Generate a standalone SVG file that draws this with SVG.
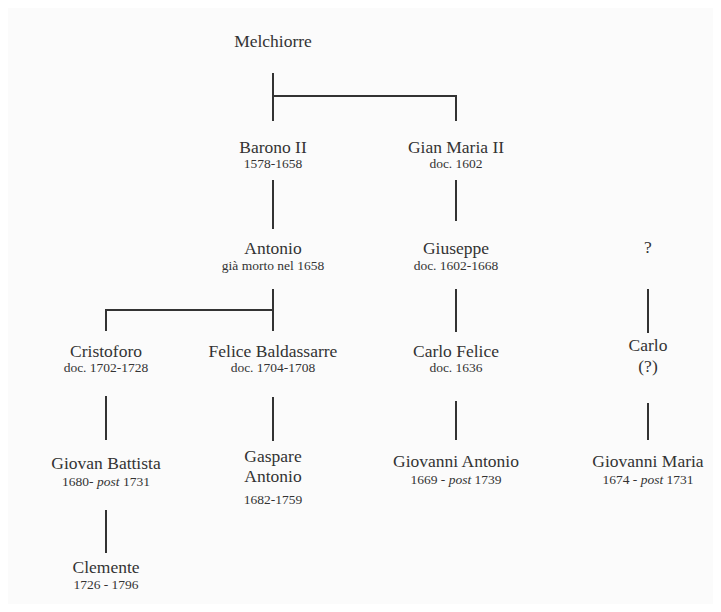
<svg xmlns="http://www.w3.org/2000/svg" width="721" height="612" viewBox="0 0 721 612">
<style>
.t text{fill:#333;text-anchor:middle;font-family:'Liberation Serif','Times New Roman',Times,'Nimbus Roman','DejaVu Serif',serif}
.n{font-size:17.5px}
.d{font-size:13.5px}
.c line{stroke:#333;stroke-width:2;fill:none}
</style>
<rect width="721" height="612" fill="#ffffff"/>
<rect x="8" y="8" width="705" height="596" fill="#fbfbfb"/>
<g id="connectors" class="c">
<line x1="273" y1="73" x2="273" y2="121"/>
<line x1="273" y1="96" x2="456" y2="96"/>
<line x1="456" y1="95" x2="456" y2="121"/>
<line x1="273" y1="180" x2="273" y2="229"/>
<line x1="456" y1="180" x2="456" y2="221"/>
<line x1="273" y1="289" x2="273" y2="331"/>
<line x1="105" y1="310" x2="273" y2="310"/>
<line x1="106" y1="309" x2="106" y2="331"/>
<line x1="456" y1="289" x2="456" y2="332"/>
<line x1="648" y1="289" x2="648" y2="333"/>
<line x1="106" y1="396" x2="106" y2="440"/>
<line x1="273" y1="397" x2="273" y2="441"/>
<line x1="456" y1="401" x2="456" y2="440"/>
<line x1="648" y1="403" x2="648" y2="440"/>
<line x1="106" y1="510" x2="106" y2="553"/>
</g>
<g class="t">
<g id="melchiorre"><text class="n" x="273" y="47">Melchiorre</text></g>
<g id="barono"><text class="n" x="273" y="153">Barono II</text><text class="d" x="273" y="168">1578-1658</text></g>
<g id="gianmaria"><text class="n" x="456" y="153">Gian Maria II</text><text class="d" x="456" y="168">doc. 1602</text></g>
<g id="antonio"><text class="n" x="273" y="254">Antonio</text><text class="d" x="273" y="270">già morto nel 1658</text></g>
<g id="giuseppe"><text class="n" x="456" y="254">Giuseppe</text><text class="d" x="456" y="270">doc. 1602-1668</text></g>
<g id="unknown"><text class="n" x="648" y="253">?</text></g>
<g id="cristoforo"><text class="n" x="106" y="357">Cristoforo</text><text class="d" x="106" y="372">doc. 1702-1728</text></g>
<g id="felice"><text class="n" x="273" y="357">Felice Baldassarre</text><text class="d" x="273" y="372">doc. 1704-1708</text></g>
<g id="carlofelice"><text class="n" x="456" y="357">Carlo Felice</text><text class="d" x="456" y="372">doc. 1636</text></g>
<g id="carlo"><text class="n" x="648" y="351">Carlo</text><text class="n" x="648" y="372">(?)</text></g>
<g id="giovanbattista"><text class="n" x="106" y="469">Giovan Battista</text><text class="d" x="106" y="486">1680- <tspan font-style="italic">post</tspan> 1731</text></g>
<g id="gaspare"><text class="n" x="273" y="462">Gaspare</text><text class="n" x="273" y="482">Antonio</text><text class="d" x="273" y="504">1682-1759</text></g>
<g id="giovanniantonio"><text class="n" x="456" y="467">Giovanni Antonio</text><text class="d" x="456" y="484">1669 - <tspan font-style="italic">post</tspan> 1739</text></g>
<g id="giovannimaria"><text class="n" x="648" y="467">Giovanni Maria</text><text class="d" x="648" y="484">1674 - <tspan font-style="italic">post</tspan> 1731</text></g>
<g id="clemente"><text class="n" x="106" y="573">Clemente</text><text class="d" x="106" y="589">1726 - 1796</text></g>
</g>
</svg>
